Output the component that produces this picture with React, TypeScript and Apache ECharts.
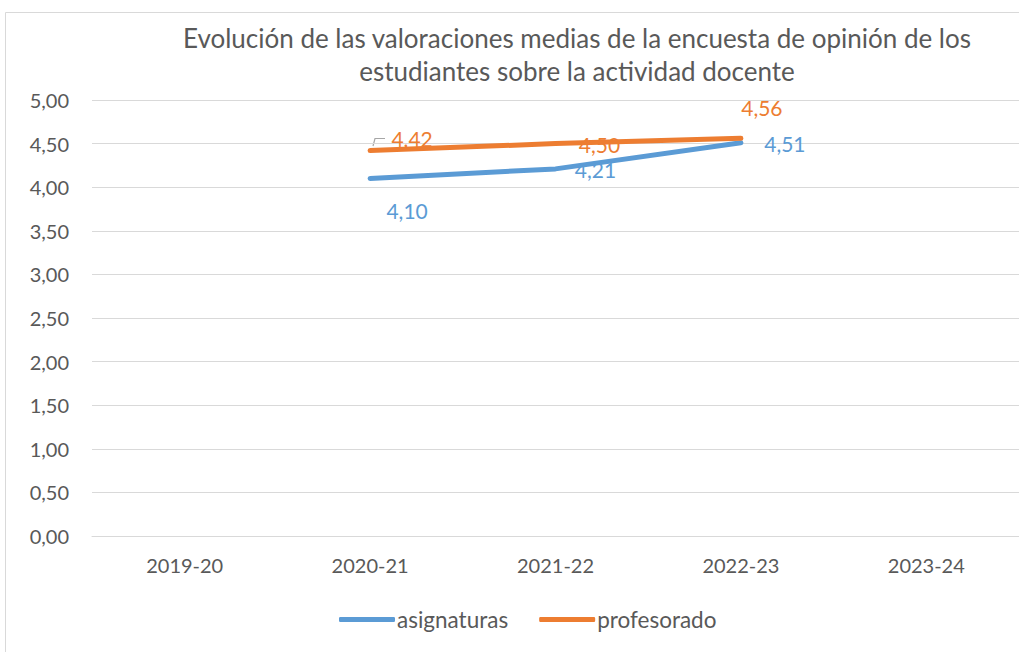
import React, { useEffect, useRef } from "react";
import * as echarts from "echarts";

const categories = ["2019-20", "2020-21", "2021-22", "2022-23", "2023-24"];
const asignaturas: (number | null)[] = [null, 4.1, 4.21, 4.51, null];
const profesorado: (number | null)[] = [null, 4.42, 4.5, 4.56, null];
const yTicks = { min: 0, max: 5, interval: 0.5 };
const titleLines = [
  "Evolución de las valoraciones medias de la encuesta de opinión de los",
  "estudiantes sobre la actividad docente",
];

// label offsets (styling), per point
const asigOffsets: [number, number][] = [[0, 0], [37, 32], [40, 1], [44, 1], [0, 0]];
const profOffsets: [number, number][] = [[0, 0], [42, -12], [44, 1], [21, -31], [0, 0]];

const FONT = "Lato, 'Open Sans', sans-serif";
const TXT = "#595959";
const BLUE = "#5b9bd5";
const ORANGE = "#ed7d31";

const fmt = (v: number) => v.toFixed(2).replace(".", ",");

function mkData(vals: (number | null)[], offs: [number, number][], color: string) {
  return vals.map((v, i) =>
    v == null
      ? null
      : {
          value: v,
          label: {
            show: true,
            position: "inside",
            offset: offs[i],
            color,
            fontSize: 21,
            fontFamily: FONT,
            formatter: () => fmt(v),
          },
        }
  );
}

export default function App() {
  const ref = useRef<HTMLDivElement>(null);
  useEffect(() => {
    document.body.style.margin = "0";
    const chart = echarts.init(ref.current!, null, { renderer: "svg" });
    chart.setOption({
      animation: false,
      backgroundColor: "#ffffff",
      title: {
        text: titleLines.join("\n"),
        left: 572,
        top: 16,
        textAlign: "center",
        textStyle: {
          color: TXT,
          fontSize: 26,
          fontWeight: "normal",
          fontFamily: FONT,
          lineHeight: 33,
        },
      },
      graphic: [
        {
          type: "rect",
          shape: { x: 5.5, y: 12.5, width: 1100, height: 700 },
          style: { fill: "none", stroke: "#d9d9d9", lineWidth: 1 },
          silent: true,
        },
        {
          type: "polyline",
          shape: { points: [[373, 146], [375, 138.5], [385, 138.5]] },
          style: { fill: "none", stroke: "#a6a6a6", lineWidth: 1.2 },
          silent: true,
        },
      ],
      legend: {
        top: 603,
        left: 334,
        itemWidth: 56,
        itemHeight: 5,
        itemGap: 31,
        textStyle: { color: TXT, fontSize: 22.5, fontFamily: FONT, padding: [0, 0, 0, -3] },
        data: [
          { name: "asignaturas", icon: "roundRect", itemStyle: { color: BLUE } },
          { name: "profesorado", icon: "roundRect", itemStyle: { color: ORANGE } },
        ],
      },
      grid: { left: 92, top: 100, width: 933, height: 436 },
      xAxis: {
        type: "category",
        data: categories,
        boundaryGap: true,
        axisLine: { lineStyle: { color: "#d9d9d9" } },
        axisTick: { show: false },
        axisLabel: { color: TXT, fontSize: 20, fontFamily: FONT, margin: 19 },
      },
      yAxis: {
        type: "value",
        min: yTicks.min,
        max: yTicks.max,
        interval: yTicks.interval,
        axisLine: { show: false },
        axisTick: { show: false },
        splitLine: { lineStyle: { color: "#d9d9d9", width: 1 } },
        axisLabel: {
          color: TXT,
          fontSize: 20,
          fontFamily: FONT,
          margin: 23,
          formatter: (v: number) => fmt(v),
        },
      },
      series: [
        {
          name: "asignaturas",
          type: "line",
          data: mkData(asignaturas, asigOffsets, BLUE),
          color: BLUE,
          symbol: "circle",
          symbolSize: 0,
          itemStyle: { color: BLUE },
          lineStyle: { color: BLUE, width: 5, cap: "round", join: "round" },
          connectNulls: false,
        },
        {
          name: "profesorado",
          type: "line",
          data: mkData(profesorado, profOffsets, ORANGE),
          color: ORANGE,
          symbol: "circle",
          symbolSize: 0,
          itemStyle: { color: ORANGE },
          lineStyle: { color: ORANGE, width: 5, cap: "round", join: "round" },
          connectNulls: false,
        },
      ],
    });
    return () => chart.dispose();
  }, []);
  return <div ref={ref} style={{ width: 1019, height: 652 }} />;
}
